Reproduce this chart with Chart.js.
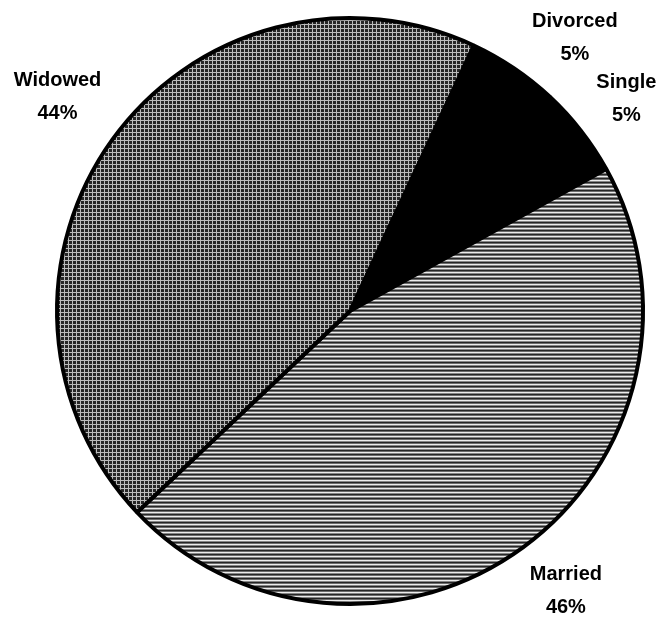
<!DOCTYPE html>
<html>
<head>
<meta charset="utf-8">
<title>Marital status</title>
<script src="https://cdn.jsdelivr.net/npm/chart.js@4.4.1/dist/chart.umd.min.js"></script>
<style>
    html, body { margin: 0; padding: 0; background: #fff; }
    #wrap { width: 659px; height: 617px; position: relative; }
</style>
</head>
<body>
<div id="wrap"><canvas id="statusChart"></canvas></div>
<script>
// --- Data ---
const categories = ["Divorced", "Single", "Married", "Widowed"];
const shares = [5, 5, 46, 44];

// --- Fill patterns (printed halftone look) ---
function makeTile(size, paint) {
    const c = document.createElement("canvas");
    c.width = size;
    c.height = size;
    paint(c.getContext("2d"));
    return document.createElement("canvas").getContext("2d").createPattern(c, "repeat");
}

// crosshatch grid for Widowed
const gridFill = makeTile(4, function (g) {
    g.fillStyle = "#262626";
    g.fillRect(0, 0, 4, 4);
    g.fillStyle = "#bcbcbc";
    g.fillRect(0, 0, 4, 1);
    g.fillRect(0, 0, 1, 4);
});

// horizontal rules for Married
const lineFill = makeTile(4, function (g) {
    const rows = ["#ececec", "#858585", "#262626", "#6c6c6c"];
    rows.forEach(function (col, i) {
        g.fillStyle = col;
        g.fillRect(0, i, 4, 1);
    });
});

const sliceFills = ["#000000", "#000000", lineFill, gridFill];

// --- Outside labels: name on one line, percent below ---
const labelNudge = {
    Divorced: [28, 18],
    Single: [-1, 4],
    Married: [8, -5],
    Widowed: [-7, -9]
};

const outsideLabels = {
    id: "outsideLabels",
    afterDatasetsDraw(chart) {
        const ctx = chart.ctx;
        const arcs = chart.getDatasetMeta(0).data;
        ctx.save();
        ctx.font = "bold 20px 'Liberation Sans', Arial, sans-serif";
        ctx.fillStyle = "#000";
        ctx.textAlign = "center";
        ctx.textBaseline = "alphabetic";
        arcs.forEach(function (arc, i) {
            const p = arc.getProps(["x", "y", "startAngle", "endAngle", "outerRadius"], true);
            const mid = (p.startAngle + p.endAngle) / 2;
            const dist = p.outerRadius + 59;
            const n = labelNudge[categories[i]] || [0, 0];
            const cx = p.x + Math.cos(mid) * dist + n[0];
            const cy = p.y + Math.sin(mid) * dist + n[1];
            ctx.fillText(categories[i], cx, cy - 10);
            ctx.fillText(shares[i] + "%", cx, cy + 23);
        });
        ctx.restore();
    }
};

// --- Chart ---
new Chart(document.getElementById("statusChart"), {
    type: "pie",
    data: {
        labels: categories,
        datasets: [{
            data: shares,
            backgroundColor: sliceFills,
            borderColor: "#000",
            borderWidth: 4
        }]
    },
    options: {
        responsive: true,
        maintainAspectRatio: false,
        animation: false,
        rotation: 25,
        layout: { padding: { left: 55, right: 14, top: 16, bottom: 11 } },
        plugins: {
            legend: { display: false },
            tooltip: { enabled: false }
        }
    },
    plugins: [outsideLabels]
});
</script>
</body>
</html>
